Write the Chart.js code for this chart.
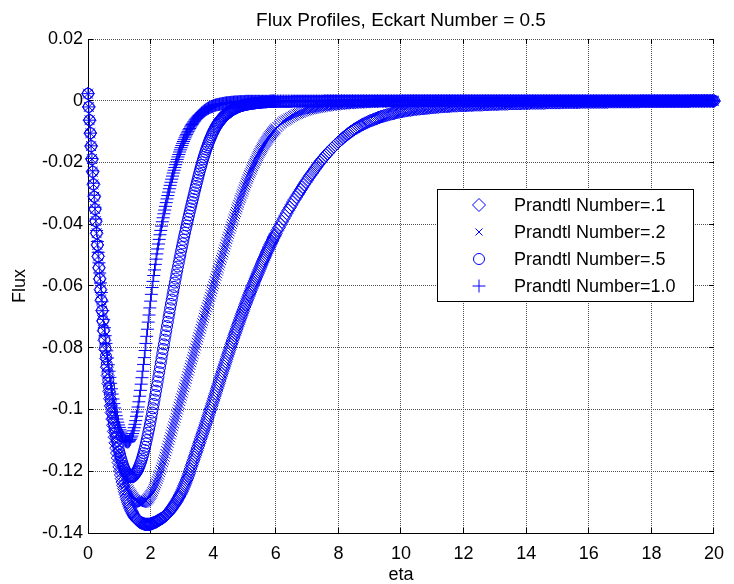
<!DOCTYPE html>
<html>
<head>
<meta charset="utf-8">
<title>Flux Profiles</title>
<script src="https://cdn.jsdelivr.net/npm/chart.js@4.4.1/dist/chart.umd.min.js"></script>
<style>
  html, body { margin: 0; padding: 0; background: #fff; }
  #caja { width: 734px; height: 584px; }
</style>
</head>
<body>
<div id="caja"><canvas id="grafico"></canvas></div>
<script>
// eta (eje x), compartido por las cuatro curvas
const eta = [
  0, 0.025, 0.05, 0.075, 0.1, 0.125, 0.15, 0.175, 0.2, 0.225,
  0.25, 0.275, 0.3, 0.325, 0.35, 0.375, 0.4, 0.425, 0.45, 0.475,
  0.5, 0.525, 0.55, 0.575, 0.6, 0.625, 0.65, 0.675, 0.7, 0.725,
  0.75, 0.775, 0.8, 0.825, 0.85, 0.875, 0.9, 0.925, 0.95, 0.975,
  1, 1.025, 1.05, 1.075, 1.1, 1.125, 1.15, 1.175, 1.2, 1.225,
  1.25, 1.275, 1.3, 1.325, 1.35, 1.375, 1.4, 1.425, 1.45, 1.475,
  1.5,
  1.525, 1.55, 1.575, 1.6, 1.625, 1.65, 1.675, 1.7, 1.725, 1.75,
  1.775, 1.8, 1.825, 1.85, 1.875, 1.9, 1.925, 1.95, 1.975, 2,
  2.025, 2.05, 2.075, 2.1, 2.125, 2.15, 2.175, 2.2, 2.225, 2.25,
  2.275, 2.3, 2.325, 2.35, 2.375, 2.4, 2.425, 2.45, 2.475, 2.5,
  2.525, 2.55, 2.575, 2.6, 2.625, 2.65, 2.675, 2.7, 2.725, 2.75,
  2.775, 2.8, 2.825, 2.85, 2.875, 2.9, 2.925, 2.95, 2.975, 3,
  3.025, 3.05, 3.075, 3.1, 3.125, 3.15, 3.175, 3.2, 3.225, 3.25,
  3.275, 3.3, 3.325, 3.35, 3.375, 3.4, 3.425, 3.45, 3.475, 3.5,
  3.525, 3.55, 3.575, 3.6, 3.625, 3.65, 3.675, 3.7, 3.725, 3.75,
  3.775, 3.8, 3.825, 3.85, 3.875, 3.9, 3.925, 3.95, 3.975, 4,
  4.025, 4.05, 4.075, 4.1, 4.125, 4.15, 4.175, 4.2, 4.225, 4.25,
  4.275, 4.3, 4.325, 4.35, 4.375, 4.4, 4.425, 4.45, 4.475, 4.5,
  4.525, 4.55, 4.575, 4.6, 4.625, 4.65, 4.675, 4.7, 4.725, 4.75,
  4.775, 4.8, 4.825, 4.85, 4.875, 4.9, 4.925, 4.95, 4.975, 5,
  5.025, 5.05, 5.075, 5.1, 5.125, 5.15, 5.175, 5.2, 5.225, 5.25,
  5.275, 5.3, 5.325, 5.35, 5.375, 5.4, 5.425, 5.45, 5.475, 5.5,
  5.525, 5.55, 5.575, 5.6, 5.625, 5.65, 5.675, 5.7, 5.725, 5.75,
  5.775, 5.8, 5.825, 5.85, 5.875, 5.9, 5.925, 5.95, 5.975, 6,
  6.05, 6.1, 6.15, 6.2, 6.25, 6.3, 6.35, 6.4, 6.45, 6.5,
  6.55, 6.6, 6.65, 6.7, 6.75, 6.8, 6.85, 6.9, 6.95, 7,
  7.05, 7.1, 7.15, 7.2, 7.25, 7.3, 7.35, 7.4, 7.45, 7.5,
  7.55, 7.6, 7.65, 7.7, 7.75, 7.8, 7.85, 7.9, 7.95, 8,
  8.05, 8.1, 8.15, 8.2, 8.25, 8.3, 8.35, 8.4, 8.45, 8.5,
  8.55, 8.6, 8.65, 8.7, 8.75, 8.8, 8.85, 8.9, 8.95, 9,
  9.05, 9.1, 9.15, 9.2, 9.25, 9.3, 9.35, 9.4, 9.45, 9.5,
  9.55, 9.6, 9.65, 9.7, 9.75, 9.8, 9.85, 9.9, 9.95, 10,
  10.05, 10.1, 10.15, 10.2, 10.25, 10.3, 10.35, 10.4, 10.45, 10.5,
  10.55, 10.6, 10.65, 10.7, 10.75, 10.8, 10.85, 10.9, 10.95, 11,
  11.05, 11.1, 11.15, 11.2, 11.25, 11.3, 11.35, 11.4, 11.45, 11.5,
  11.55, 11.6, 11.65, 11.7, 11.75, 11.8, 11.85, 11.9, 11.95, 12,
  12.05, 12.1, 12.15, 12.2, 12.25, 12.3, 12.35, 12.4, 12.45, 12.5,
  12.55, 12.6, 12.65, 12.7, 12.75, 12.8, 12.85, 12.9, 12.95, 13,
  13.05, 13.1, 13.15, 13.2, 13.25, 13.3, 13.35, 13.4, 13.45, 13.5,
  13.55, 13.6, 13.65, 13.7, 13.75, 13.8, 13.85, 13.9, 13.95, 14,
  14.05, 14.1, 14.15, 14.2, 14.25, 14.3, 14.35, 14.4, 14.45, 14.5,
  14.55, 14.6, 14.65, 14.7, 14.75, 14.8, 14.85, 14.9, 14.95, 15,
  15.05, 15.1, 15.15, 15.2, 15.25, 15.3, 15.35, 15.4, 15.45, 15.5,
  15.55, 15.6, 15.65, 15.7, 15.75, 15.8, 15.85, 15.9, 15.95, 16,
  16.05, 16.1, 16.15, 16.2, 16.25, 16.3, 16.35, 16.4, 16.45, 16.5,
  16.55, 16.6, 16.65, 16.7, 16.75, 16.8, 16.85, 16.9, 16.95, 17,
  17.05, 17.1, 17.15, 17.2, 17.25, 17.3, 17.35, 17.4, 17.45, 17.5,
  17.55, 17.6, 17.65, 17.7, 17.75, 17.8, 17.85, 17.9, 17.95, 18,
  18.05, 18.1, 18.15, 18.2, 18.25, 18.3, 18.35, 18.4, 18.45, 18.5,
  18.55, 18.6, 18.65, 18.7, 18.75, 18.8, 18.85, 18.9, 18.95, 19,
  19.05, 19.1, 19.15, 19.2, 19.25, 19.3, 19.35, 19.4, 19.45, 19.5,
  19.55, 19.6, 19.65, 19.7, 19.75, 19.8, 19.85, 19.9, 19.95, 20
];

// Prandtl Number = .1 (rombos)
const fluxPr01 = [
  0.0023, -0.0020, -0.0063, -0.0105, -0.0147, -0.0189, -0.0230, -0.0271, -0.0311, -0.0351,
  -0.0390, -0.0429, -0.0467, -0.0504, -0.0541, -0.0577, -0.0612, -0.0646, -0.0680, -0.0713,
  -0.0745, -0.0776, -0.0806, -0.0835, -0.0863, -0.0890, -0.0916, -0.0941, -0.0965, -0.0988,
  -0.1010, -0.1031, -0.1051, -0.1071, -0.1090, -0.1108, -0.1125, -0.1141, -0.1157, -0.1172,
  -0.1186, -0.1199, -0.1212, -0.1224, -0.1235, -0.1246, -0.1256, -0.1266, -0.1275, -0.1284,
  -0.1292, -0.1300, -0.1307, -0.1314, -0.1320, -0.1326, -0.1331, -0.1336, -0.1341, -0.1345,
  -0.1349,
  -0.1352, -0.1355, -0.1358, -0.1360, -0.1362, -0.1364, -0.1366, -0.1367, -0.1368, -0.1369,
  -0.1370, -0.1371, -0.1372, -0.1372, -0.1372, -0.1372, -0.1372, -0.1372, -0.1372, -0.1371,
  -0.1370, -0.1369, -0.1368, -0.1367, -0.1366, -0.1365, -0.1364, -0.1362, -0.1361, -0.1359,
  -0.1358, -0.1356, -0.1355, -0.1353, -0.1352, -0.1350, -0.1348, -0.1346, -0.1344, -0.1341,
  -0.1339, -0.1336, -0.1333, -0.1330, -0.1327, -0.1323, -0.1320, -0.1316, -0.1313, -0.1309,
  -0.1306, -0.1302, -0.1298, -0.1293, -0.1289, -0.1284, -0.1280, -0.1275, -0.1270, -0.1265,
  -0.1259, -0.1253, -0.1247, -0.1241, -0.1235, -0.1228, -0.1222, -0.1215, -0.1208, -0.1200,
  -0.1193, -0.1185, -0.1178, -0.1170, -0.1163, -0.1155, -0.1148, -0.1140, -0.1133, -0.1125,
  -0.1118, -0.1110, -0.1103, -0.1095, -0.1088, -0.1080, -0.1073, -0.1065, -0.1058, -0.1050,
  -0.1043, -0.1035, -0.1027, -0.1019, -0.1011, -0.1003, -0.0996, -0.0988, -0.0980, -0.0972,
  -0.0964, -0.0956, -0.0948, -0.0940, -0.0932, -0.0924, -0.0916, -0.0908, -0.0900, -0.0892,
  -0.0884, -0.0876, -0.0868, -0.0861, -0.0853, -0.0845, -0.0837, -0.0829, -0.0821, -0.0814,
  -0.0806, -0.0798, -0.0790, -0.0783, -0.0775, -0.0768, -0.0760, -0.0753, -0.0746, -0.0739,
  -0.0731, -0.0724, -0.0717, -0.0710, -0.0703, -0.0696, -0.0689, -0.0682, -0.0675, -0.0668,
  -0.0661, -0.0655, -0.0648, -0.0641, -0.0634, -0.0628, -0.0621, -0.0615, -0.0608, -0.0602,
  -0.0596, -0.0590, -0.0583, -0.0577, -0.0571, -0.0565, -0.0559, -0.0553, -0.0547, -0.0541,
  -0.0535, -0.0529, -0.0523, -0.0517, -0.0511, -0.0506, -0.0500, -0.0494, -0.0488, -0.0483,
  -0.0477, -0.0472, -0.0466, -0.0461, -0.0456, -0.0451, -0.0445, -0.0440, -0.0435, -0.0430,
  -0.0420, -0.0411, -0.0401, -0.0392, -0.0382, -0.0373, -0.0364, -0.0355, -0.0346, -0.0337,
  -0.0328, -0.0320, -0.0312, -0.0304, -0.0296, -0.0288, -0.0280, -0.0272, -0.0264, -0.0257,
  -0.0249, -0.0242, -0.0235, -0.0228, -0.0221, -0.0214, -0.0207, -0.0200, -0.0194, -0.0188,
  -0.0182, -0.0176, -0.0170, -0.0165, -0.0159, -0.0154, -0.0149, -0.0144, -0.0139, -0.0134,
  -0.0129, -0.0125, -0.0120, -0.0116, -0.0112, -0.0108, -0.0104, -0.0100, -0.0097, -0.0093,
  -0.0090, -0.0087, -0.0084, -0.0081, -0.0078, -0.0076, -0.0073, -0.0071, -0.0068, -0.0066,
  -0.0064, -0.0062, -0.0060, -0.0058, -0.0056, -0.0054, -0.0052, -0.0051, -0.0049, -0.0048,
  -0.0046, -0.0045, -0.0043, -0.0042, -0.0041, -0.0040, -0.0038, -0.0037, -0.0036, -0.0035,
  -0.0034, -0.0033, -0.0032, -0.0031, -0.0030, -0.0030, -0.0029, -0.0028, -0.0027, -0.0027,
  -0.0026, -0.0026, -0.0025, -0.0025, -0.0024, -0.0024, -0.0023, -0.0023, -0.0022, -0.0022,
  -0.0021, -0.0021, -0.0020, -0.0020, -0.0019, -0.0019, -0.0018, -0.0018, -0.0018, -0.0018,
  -0.0017, -0.0017, -0.0016, -0.0016, -0.0016, -0.0016, -0.0015, -0.0015, -0.0015, -0.0015,
  -0.0015, -0.0015, -0.0014, -0.0014, -0.0014, -0.0014, -0.0013, -0.0013, -0.0013, -0.0013,
  -0.0013, -0.0013, -0.0012, -0.0012, -0.0012, -0.0012, -0.0011, -0.0011, -0.0011, -0.0011,
  -0.0011, -0.0011, -0.0010, -0.0010, -0.0010, -0.0010, -0.0010, -0.0010, -0.0009, -0.0009,
  -0.0009, -0.0009, -0.0009, -0.0009, -0.0009, -0.0009, -0.0008, -0.0008, -0.0008, -0.0008,
  -0.0008, -0.0008, -0.0007, -0.0007, -0.0007, -0.0007, -0.0007, -0.0007, -0.0007, -0.0007,
  -0.0007, -0.0007, -0.0006, -0.0006, -0.0006, -0.0006, -0.0006, -0.0006, -0.0006, -0.0006,
  -0.0006, -0.0006, -0.0005, -0.0005, -0.0005, -0.0005, -0.0005, -0.0005, -0.0005, -0.0005,
  -0.0005, -0.0005, -0.0005, -0.0005, -0.0004, -0.0004, -0.0004, -0.0004, -0.0004, -0.0004,
  -0.0004, -0.0004, -0.0004, -0.0004, -0.0004, -0.0004, -0.0004, -0.0004, -0.0004, -0.0004,
  -0.0004, -0.0004, -0.0003, -0.0003, -0.0003, -0.0003, -0.0003, -0.0003, -0.0003, -0.0003,
  -0.0003, -0.0003, -0.0003, -0.0003, -0.0003, -0.0003, -0.0003, -0.0003, -0.0003, -0.0003,
  -0.0003, -0.0003, -0.0002, -0.0002, -0.0002, -0.0002, -0.0002, -0.0002, -0.0002, -0.0002,
  -0.0002, -0.0002, -0.0002, -0.0002, -0.0002, -0.0002, -0.0002, -0.0002, -0.0002, -0.0002,
  -0.0002, -0.0002, -0.0002, -0.0002, -0.0002, -0.0002, -0.0002, -0.0002, -0.0002, -0.0002,
  -0.0002, -0.0002, -0.0002, -0.0002, -0.0001, -0.0001, -0.0001, -0.0001, -0.0001, -0.0001,
  -0.0001, -0.0001, -0.0001, -0.0001, -0.0001, -0.0001, -0.0001, -0.0001, -0.0001, -0.0001
];

// Prandtl Number = .2 (aspas)
const fluxPr02 = [
  0.0023, -0.0020, -0.0063, -0.0105, -0.0147, -0.0189, -0.0230, -0.0271, -0.0311, -0.0351,
  -0.0390, -0.0429, -0.0467, -0.0504, -0.0541, -0.0577, -0.0612, -0.0646, -0.0680, -0.0713,
  -0.0745, -0.0776, -0.0806, -0.0833, -0.0860, -0.0886, -0.0911, -0.0935, -0.0958, -0.0980,
  -0.1001, -0.1021, -0.1040, -0.1058, -0.1075, -0.1091, -0.1106, -0.1120, -0.1134, -0.1147,
  -0.1159, -0.1171, -0.1182, -0.1192, -0.1202, -0.1211, -0.1220, -0.1228, -0.1236, -0.1243,
  -0.1250, -0.1256, -0.1262, -0.1267, -0.1272, -0.1276, -0.1280, -0.1284, -0.1287, -0.1290,
  -0.1293,
  -0.1295, -0.1297, -0.1299, -0.1300, -0.1301, -0.1301, -0.1302, -0.1302, -0.1302, -0.1301,
  -0.1300, -0.1299, -0.1298, -0.1296, -0.1294, -0.1291, -0.1288, -0.1285, -0.1281, -0.1277,
  -0.1273, -0.1268, -0.1263, -0.1257, -0.1251, -0.1245, -0.1239, -0.1232, -0.1225, -0.1218,
  -0.1211, -0.1203, -0.1195, -0.1187, -0.1179, -0.1170, -0.1162, -0.1153, -0.1144, -0.1135,
  -0.1126, -0.1117, -0.1108, -0.1099, -0.1090, -0.1081, -0.1072, -0.1063, -0.1054, -0.1045,
  -0.1036, -0.1027, -0.1018, -0.1009, -0.1000, -0.0991, -0.0982, -0.0973, -0.0964, -0.0955,
  -0.0946, -0.0937, -0.0928, -0.0919, -0.0910, -0.0901, -0.0892, -0.0883, -0.0874, -0.0865,
  -0.0856, -0.0847, -0.0838, -0.0829, -0.0820, -0.0811, -0.0802, -0.0793, -0.0784, -0.0775,
  -0.0766, -0.0757, -0.0748, -0.0739, -0.0730, -0.0721, -0.0712, -0.0703, -0.0695, -0.0686,
  -0.0678, -0.0669, -0.0661, -0.0652, -0.0644, -0.0635, -0.0627, -0.0618, -0.0610, -0.0601,
  -0.0593, -0.0584, -0.0576, -0.0567, -0.0559, -0.0550, -0.0542, -0.0533, -0.0525, -0.0516,
  -0.0508, -0.0499, -0.0491, -0.0482, -0.0474, -0.0465, -0.0457, -0.0448, -0.0440, -0.0431,
  -0.0423, -0.0415, -0.0407, -0.0399, -0.0391, -0.0383, -0.0375, -0.0367, -0.0360, -0.0352,
  -0.0345, -0.0337, -0.0330, -0.0322, -0.0315, -0.0308, -0.0301, -0.0294, -0.0287, -0.0280,
  -0.0274, -0.0267, -0.0261, -0.0254, -0.0248, -0.0241, -0.0235, -0.0229, -0.0223, -0.0217,
  -0.0212, -0.0206, -0.0201, -0.0195, -0.0190, -0.0184, -0.0179, -0.0174, -0.0169, -0.0164,
  -0.0160, -0.0155, -0.0151, -0.0146, -0.0142, -0.0138, -0.0134, -0.0130, -0.0126, -0.0122,
  -0.0119, -0.0115, -0.0112, -0.0108, -0.0105, -0.0102, -0.0099, -0.0096, -0.0093, -0.0090,
  -0.0085, -0.0080, -0.0075, -0.0071, -0.0067, -0.0064, -0.0061, -0.0058, -0.0055, -0.0052,
  -0.0049, -0.0047, -0.0044, -0.0042, -0.0040, -0.0038, -0.0036, -0.0034, -0.0032, -0.0031,
  -0.0029, -0.0028, -0.0027, -0.0026, -0.0025, -0.0024, -0.0023, -0.0022, -0.0021, -0.0020,
  -0.0019, -0.0019, -0.0018, -0.0017, -0.0016, -0.0016, -0.0015, -0.0015, -0.0014, -0.0014,
  -0.0013, -0.0013, -0.0012, -0.0012, -0.0011, -0.0011, -0.0011, -0.0011, -0.0010, -0.0010,
  -0.0009, -0.0009, -0.0009, -0.0009, -0.0008, -0.0008, -0.0008, -0.0008, -0.0007, -0.0007,
  -0.0007, -0.0007, -0.0007, -0.0006, -0.0006, -0.0006, -0.0006, -0.0006, -0.0005, -0.0005,
  -0.0005, -0.0005, -0.0005, -0.0005, -0.0004, -0.0004, -0.0004, -0.0004, -0.0004, -0.0004,
  -0.0004, -0.0004, -0.0003, -0.0003, -0.0003, -0.0003, -0.0003, -0.0003, -0.0003, -0.0003,
  -0.0003, -0.0003, -0.0003, -0.0003, -0.0003, -0.0003, -0.0003, -0.0003, -0.0003, -0.0003,
  -0.0003, -0.0003, -0.0003, -0.0003, -0.0003, -0.0002, -0.0002, -0.0002, -0.0002, -0.0002,
  -0.0002, -0.0002, -0.0002, -0.0002, -0.0002, -0.0002, -0.0002, -0.0002, -0.0002, -0.0002,
  -0.0002, -0.0002, -0.0002, -0.0002, -0.0002, -0.0002, -0.0002, -0.0002, -0.0002, -0.0002,
  -0.0002, -0.0002, -0.0002, -0.0002, -0.0002, -0.0002, -0.0002, -0.0002, -0.0002, -0.0002,
  -0.0002, -0.0002, -0.0002, -0.0002, -0.0002, -0.0002, -0.0002, -0.0002, -0.0002, -0.0002,
  -0.0002, -0.0002, -0.0002, -0.0002, -0.0002, -0.0002, -0.0002, -0.0002, -0.0002, -0.0002,
  -0.0001, -0.0001, -0.0001, -0.0001, -0.0001, -0.0001, -0.0001, -0.0001, -0.0001, -0.0001,
  -0.0001, -0.0001, -0.0001, -0.0001, -0.0001, -0.0001, -0.0001, -0.0001, -0.0001, -0.0001,
  -0.0001, -0.0001, -0.0001, -0.0001, -0.0001, -0.0001, -0.0001, -0.0001, -0.0001, -0.0001,
  -0.0001, -0.0001, -0.0001, -0.0001, -0.0001, -0.0001, -0.0001, -0.0001, -0.0001, -0.0001,
  -0.0001, -0.0001, -0.0001, -0.0001, -0.0001, -0.0001, -0.0001, -0.0001, -0.0001, -0.0001,
  -0.0001, -0.0001, -0.0001, -0.0001, -0.0001, -0.0001, -0.0001, -0.0001, -0.0001, -0.0001,
  -0.0001, -0.0001, -0.0001, -0.0001, -0.0001, -0.0001, -0.0001, -0.0001, -0.0001, -0.0001,
  -0.0001, -0.0001, -0.0001, -0.0001, -0.0001, -0.0001, -0.0001, -0.0001, -0.0001, -0.0001,
  0, 0, 0, 0, 0, 0, 0, 0, 0, 0,
  0, 0, 0, 0, 0, 0, 0, 0, 0, 0,
  0, 0, 0, 0, 0, 0, 0, 0, 0, 0,
  0, 0, 0, 0, 0, 0, 0, 0, 0, 0
];

// Prandtl Number = .5 (círculos)
const fluxPr05 = [
  0.0023, -0.0020, -0.0063, -0.0105, -0.0147, -0.0189, -0.0230, -0.0271, -0.0311, -0.0351,
  -0.0390, -0.0429, -0.0467, -0.0504, -0.0541, -0.0577, -0.0612, -0.0646, -0.0680, -0.0713,
  -0.0742, -0.0772, -0.0800, -0.0828, -0.0855, -0.0880, -0.0904, -0.0927, -0.0949, -0.0970,
  -0.0990, -0.1009, -0.1027, -0.1044, -0.1060, -0.1075, -0.1089, -0.1102, -0.1114, -0.1126,
  -0.1137, -0.1147, -0.1157, -0.1166, -0.1174, -0.1182, -0.1189, -0.1195, -0.1200, -0.1205,
  -0.1209, -0.1212, -0.1215, -0.1217, -0.1218, -0.1219, -0.1219, -0.1218, -0.1216, -0.1213,
  -0.1209,
  -0.1206, -0.1202, -0.1198, -0.1193, -0.1187, -0.1181, -0.1174, -0.1167, -0.1159, -0.1150,
  -0.1141, -0.1131, -0.1121, -0.1110, -0.1099, -0.1087, -0.1075, -0.1063, -0.1050, -0.1037,
  -0.1024, -0.1010, -0.0996, -0.0982, -0.0968, -0.0953, -0.0939, -0.0924, -0.0909, -0.0894,
  -0.0879, -0.0864, -0.0849, -0.0834, -0.0819, -0.0804, -0.0789, -0.0774, -0.0760, -0.0745,
  -0.0730, -0.0716, -0.0701, -0.0687, -0.0672, -0.0658, -0.0644, -0.0630, -0.0616, -0.0603,
  -0.0589, -0.0576, -0.0563, -0.0550, -0.0537, -0.0524, -0.0511, -0.0499, -0.0486, -0.0474,
  -0.0462, -0.0450, -0.0438, -0.0427, -0.0415, -0.0404, -0.0393, -0.0382, -0.0371, -0.0360,
  -0.0349, -0.0339, -0.0328, -0.0318, -0.0307, -0.0297, -0.0286, -0.0276, -0.0266, -0.0256,
  -0.0246, -0.0236, -0.0226, -0.0217, -0.0208, -0.0199, -0.0190, -0.0182, -0.0174, -0.0166,
  -0.0158, -0.0151, -0.0144, -0.0137, -0.0130, -0.0124, -0.0118, -0.0112, -0.0106, -0.0101,
  -0.0096, -0.0091, -0.0086, -0.0082, -0.0078, -0.0074, -0.0070, -0.0067, -0.0064, -0.0061,
  -0.0058, -0.0055, -0.0052, -0.0050, -0.0047, -0.0045, -0.0043, -0.0041, -0.0039, -0.0037,
  -0.0035, -0.0033, -0.0031, -0.0030, -0.0028, -0.0027, -0.0026, -0.0025, -0.0023, -0.0022,
  -0.0021, -0.0020, -0.0019, -0.0018, -0.0017, -0.0017, -0.0016, -0.0015, -0.0014, -0.0014,
  -0.0013, -0.0013, -0.0012, -0.0012, -0.0011, -0.0011, -0.0010, -0.0010, -0.0009, -0.0009,
  -0.0009, -0.0009, -0.0008, -0.0008, -0.0007, -0.0007, -0.0007, -0.0007, -0.0006, -0.0006,
  -0.0006, -0.0006, -0.0005, -0.0005, -0.0005, -0.0005, -0.0005, -0.0005, -0.0004, -0.0004,
  -0.0004, -0.0004, -0.0004, -0.0004, -0.0003, -0.0003, -0.0003, -0.0003, -0.0003, -0.0003,
  -0.0003, -0.0003, -0.0003, -0.0003, -0.0003, -0.0003, -0.0003, -0.0003, -0.0003, -0.0003,
  -0.0002, -0.0002, -0.0002, -0.0002, -0.0002, -0.0002, -0.0002, -0.0002, -0.0002, -0.0002,
  -0.0002, -0.0002, -0.0002, -0.0002, -0.0002, -0.0002, -0.0002, -0.0002, -0.0002, -0.0002,
  -0.0001, -0.0001, -0.0001, -0.0001, -0.0001, -0.0001, -0.0001, -0.0001, -0.0001, -0.0001,
  -0.0001, -0.0001, -0.0001, -0.0001, -0.0001, -0.0001, -0.0001, -0.0001, -0.0001, -0.0001,
  -0.0001, -0.0001, -0.0001, -0.0001, -0.0001, -0.0001, -0.0001, -0.0001, -0.0001, -0.0001,
  -0.0001, -0.0001, -0.0001, -0.0001, -0.0001, -0.0001, -0.0001, -0.0001, -0.0001, -0.0001,
  -0.0001, -0.0001, -0.0001, -0.0001, -0.0001, -0.0001, -0.0001, -0.0001, -0.0001, -0.0001,
  0, 0, 0, 0, 0, 0, 0, 0, 0, 0,
  0, 0, 0, 0, 0, 0, 0, 0, 0, 0,
  0, 0, 0, 0, 0, 0, 0, 0, 0, 0,
  0, 0, 0, 0, 0, 0, 0, 0, 0, 0,
  0, 0, 0, 0, 0, 0, 0, 0, 0, 0,
  0, 0, 0, 0, 0, 0, 0, 0, 0, 0,
  0, 0, 0, 0, 0, 0, 0, 0, 0, 0,
  0, 0, 0, 0, 0, 0, 0, 0, 0, 0,
  0, 0, 0, 0, 0, 0, 0, 0, 0, 0,
  0, 0, 0, 0, 0, 0, 0, 0, 0, 0,
  0, 0, 0, 0, 0, 0, 0, 0, 0, 0,
  0, 0, 0, 0, 0, 0, 0, 0, 0, 0,
  0, 0, 0, 0, 0, 0, 0, 0, 0, 0,
  0, 0, 0, 0, 0, 0, 0, 0, 0, 0,
  0, 0, 0, 0, 0, 0, 0, 0, 0, 0,
  0, 0, 0, 0, 0, 0, 0, 0, 0, 0,
  0, 0, 0, 0, 0, 0, 0, 0, 0, 0,
  0, 0, 0, 0, 0, 0, 0, 0, 0, 0,
  0, 0, 0, 0, 0, 0, 0, 0, 0, 0,
  0, 0, 0, 0, 0, 0, 0, 0, 0, 0
];

// Prandtl Number = 1.0 (cruces)
const fluxPr10 = [
  0.0023, -0.0020, -0.0063, -0.0105, -0.0146, -0.0187, -0.0227, -0.0267, -0.0306, -0.0345,
  -0.0383, -0.0420, -0.0456, -0.0491, -0.0525, -0.0558, -0.0590, -0.0621, -0.0651, -0.0680,
  -0.0708, -0.0735, -0.0761, -0.0786, -0.0810, -0.0833, -0.0855, -0.0876, -0.0896, -0.0915,
  -0.0933, -0.0950, -0.0966, -0.0981, -0.0995, -0.1008, -0.1020, -0.1031, -0.1041, -0.1050,
  -0.1058, -0.1066, -0.1073, -0.1079, -0.1085, -0.1090, -0.1095, -0.1099, -0.1102, -0.1104,
  -0.1105, -0.1105, -0.1104, -0.1101, -0.1097, -0.1092, -0.1086, -0.1078, -0.1069, -0.1059,
  -0.1048,
  -0.1036, -0.1022, -0.1008, -0.0992, -0.0975, -0.0957, -0.0938, -0.0918, -0.0897, -0.0876,
  -0.0854, -0.0832, -0.0809, -0.0786, -0.0763, -0.0740, -0.0717, -0.0694, -0.0671, -0.0649,
  -0.0627, -0.0605, -0.0585, -0.0566, -0.0548, -0.0530, -0.0513, -0.0496, -0.0480, -0.0464,
  -0.0449, -0.0434, -0.0420, -0.0406, -0.0392, -0.0379, -0.0366, -0.0354, -0.0342, -0.0330,
  -0.0318, -0.0307, -0.0296, -0.0285, -0.0274, -0.0264, -0.0254, -0.0244, -0.0234, -0.0225,
  -0.0216, -0.0207, -0.0198, -0.0190, -0.0182, -0.0174, -0.0166, -0.0159, -0.0152, -0.0145,
  -0.0138, -0.0132, -0.0126, -0.0120, -0.0114, -0.0109, -0.0104, -0.0099, -0.0094, -0.0090,
  -0.0085, -0.0081, -0.0077, -0.0073, -0.0069, -0.0066, -0.0062, -0.0059, -0.0056, -0.0053,
  -0.0050, -0.0048, -0.0045, -0.0043, -0.0040, -0.0038, -0.0036, -0.0034, -0.0032, -0.0030,
  -0.0028, -0.0027, -0.0025, -0.0024, -0.0022, -0.0021, -0.0020, -0.0019, -0.0018, -0.0017,
  -0.0016, -0.0015, -0.0014, -0.0013, -0.0013, -0.0012, -0.0012, -0.0011, -0.0011, -0.0010,
  -0.0010, -0.0009, -0.0009, -0.0008, -0.0008, -0.0007, -0.0007, -0.0007, -0.0006, -0.0006,
  -0.0006, -0.0006, -0.0005, -0.0005, -0.0005, -0.0005, -0.0004, -0.0004, -0.0004, -0.0004,
  -0.0004, -0.0004, -0.0003, -0.0003, -0.0003, -0.0003, -0.0003, -0.0003, -0.0003, -0.0003,
  -0.0002, -0.0002, -0.0002, -0.0002, -0.0002, -0.0002, -0.0002, -0.0002, -0.0002, -0.0002,
  -0.0002, -0.0002, -0.0002, -0.0002, -0.0002, -0.0002, -0.0002, -0.0002, -0.0002, -0.0002,
  -0.0002, -0.0002, -0.0002, -0.0002, -0.0002, -0.0002, -0.0002, -0.0002, -0.0002, -0.0002,
  -0.0002, -0.0002, -0.0001, -0.0001, -0.0001, -0.0001, -0.0001, -0.0001, -0.0001, -0.0001,
  -0.0001, -0.0001, -0.0001, -0.0001, -0.0001, -0.0001, -0.0001, -0.0001, -0.0001, -0.0001,
  -0.0001, -0.0001, -0.0001, -0.0001, -0.0001, -0.0001, -0.0001, -0.0001, -0.0001, -0.0001,
  -0.0001, -0.0001, -0.0001, -0.0001, -0.0001, -0.0001, -0.0001, -0.0001, -0.0001, -0.0001,
  0, 0, 0, 0, 0, 0, 0, 0, 0, 0,
  0, 0, 0, 0, 0, 0, 0, 0, 0, 0,
  0, 0, 0, 0, 0, 0, 0, 0, 0, 0,
  0, 0, 0, 0, 0, 0, 0, 0, 0, 0,
  0, 0, 0, 0, 0, 0, 0, 0, 0, 0,
  0, 0, 0, 0, 0, 0, 0, 0, 0, 0,
  0, 0, 0, 0, 0, 0, 0, 0, 0, 0,
  0, 0, 0, 0, 0, 0, 0, 0, 0, 0,
  0, 0, 0, 0, 0, 0, 0, 0, 0, 0,
  0, 0, 0, 0, 0, 0, 0, 0, 0, 0,
  0, 0, 0, 0, 0, 0, 0, 0, 0, 0,
  0, 0, 0, 0, 0, 0, 0, 0, 0, 0,
  0, 0, 0, 0, 0, 0, 0, 0, 0, 0,
  0, 0, 0, 0, 0, 0, 0, 0, 0, 0,
  0, 0, 0, 0, 0, 0, 0, 0, 0, 0,
  0, 0, 0, 0, 0, 0, 0, 0, 0, 0,
  0, 0, 0, 0, 0, 0, 0, 0, 0, 0,
  0, 0, 0, 0, 0, 0, 0, 0, 0, 0,
  0, 0, 0, 0, 0, 0, 0, 0, 0, 0,
  0, 0, 0, 0, 0, 0, 0, 0, 0, 0,
  0, 0, 0, 0, 0, 0, 0, 0, 0, 0,
  0, 0, 0, 0, 0, 0, 0, 0, 0, 0,
  0, 0, 0, 0, 0, 0, 0, 0, 0, 0,
  0, 0, 0, 0, 0, 0, 0, 0, 0, 0,
  0, 0, 0, 0, 0, 0, 0, 0, 0, 0
];

const nombresSeries = ['Prandtl Number=.1', 'Prandtl Number=.2', 'Prandtl Number=.5', 'Prandtl Number=1.0'];
const xTickValues = [0, 2, 4, 6, 8, 10, 12, 14, 16, 18, 20];
const xTickLabels = ['0', '2', '4', '6', '8', '10', '12', '14', '16', '18', '20'];
const yTickValues = [-0.14, -0.12, -0.1, -0.08, -0.06, -0.04, -0.02, 0, 0.02];
const yTickLabels = ['-0.14', '-0.12', '-0.1', '-0.08', '-0.06', '-0.04', '-0.02', '0', '0.02'];

const titulo = 'Flux Profiles, Eckart Number = 0.5';
const tituloX = 'eta';
const tituloY = 'Flux';

const azul = 'rgb(0,0,255)';
const fuente = "'Liberation Sans', Arial, Helvetica, sans-serif";

function puntos(valores) {
    return eta.map((x, i) => ({ x: x, y: valores[i] }));
}

function serie(etiqueta, valores, estilo, radio, radioLeyenda) {
    return {
        label: etiqueta,
        data: puntos(valores),
        showLine: false,
        pointStyle: estilo,
        pointRadius: radio,
        pointHoverRadius: radio,
        pointBorderWidth: 1,
        pointBorderColor: azul,
        pointBackgroundColor: 'rgba(0,0,0,0)',
        borderColor: azul,
        backgroundColor: 'rgba(0,0,0,0)',
        radioLeyenda: radioLeyenda,
        clip: false
    };
}

// Marcas hacia dentro en los cuatro lados (estilo MATLAB)
function alinear(p) {
    return Math.round(p - 0.5) + 0.5;
}

const marcasInternas = {
    id: 'marcasInternas',
    beforeDatasetsDraw(chart) {
        const { ctx, chartArea: a, scales } = chart;
        ctx.save();
        ctx.strokeStyle = '#000';
        ctx.lineWidth = 1;
        ctx.beginPath();
        xTickValues.forEach(v => {
            const px = alinear(scales.x.getPixelForValue(v));
            ctx.moveTo(px, a.bottom); ctx.lineTo(px, a.bottom - 5);
            ctx.moveTo(px, a.top); ctx.lineTo(px, a.top + 5);
        });
        yTickValues.forEach(v => {
            const py = alinear(scales.y.getPixelForValue(v));
            ctx.moveTo(a.left, py); ctx.lineTo(a.left + 5, py);
            ctx.moveTo(a.right, py); ctx.lineTo(a.right - 5, py);
        });
        ctx.stroke();
        ctx.restore();
    }
};

function dibujarMarca(ctx, estilo, x, y, r) {
    ctx.beginPath();
    if (estilo === 'rectRot') {
        ctx.moveTo(x, y - r); ctx.lineTo(x + r, y); ctx.lineTo(x, y + r); ctx.lineTo(x - r, y);
        ctx.closePath();
    } else if (estilo === 'circle') {
        ctx.arc(x, y, r, 0, Math.PI * 2);
    } else if (estilo === 'cross') {
        ctx.moveTo(x - r, y); ctx.lineTo(x + r, y);
        ctx.moveTo(x, y - r); ctx.lineTo(x, y + r);
    } else if (estilo === 'crossRot') {
        const d = r * Math.SQRT1_2;
        ctx.moveTo(x - d, y - d); ctx.lineTo(x + d, y + d);
        ctx.moveTo(x - d, y + d); ctx.lineTo(x + d, y - d);
    }
    ctx.stroke();
}

// Título, etiquetas de ejes y leyenda
const textosYLeyenda = {
    id: 'textosYLeyenda',
    afterDraw(chart) {
        const { ctx, chartArea: a } = chart;
        const cx = (a.left + a.right) / 2;
        ctx.save();
        ctx.fillStyle = '#000';
        ctx.textAlign = 'center';
        ctx.textBaseline = 'middle';
        ctx.font = '19px ' + fuente;
        ctx.fillText(titulo, cx, 21);
        ctx.font = '18px ' + fuente;
        ctx.fillText(tituloX, cx, 575);
        ctx.save();
        ctx.translate(20, (a.top + a.bottom) / 2);
        ctx.rotate(-Math.PI / 2);
        ctx.fillText(tituloY, 0, 0);
        ctx.restore();

        // leyenda
        const lx = 437, ly = 189, lw = 256, lh = 112;
        ctx.fillStyle = '#fff';
        ctx.fillRect(lx, ly, lw, lh);
        ctx.strokeStyle = '#000';
        ctx.lineWidth = 1;
        ctx.strokeRect(lx + 0.5, ly + 0.5, lw, lh);
        const filas = [205, 232, 259, 286];
        chart.data.datasets.forEach((ds, i) => {
            ctx.strokeStyle = azul;
            ctx.lineWidth = 1;
            dibujarMarca(ctx, ds.pointStyle, 479, filas[i], ds.radioLeyenda);
            ctx.fillStyle = '#000';
            ctx.textAlign = 'left';
            ctx.font = '18px ' + fuente;
            ctx.fillText(nombresSeries[i], 514, filas[i] + 1);
        });
        ctx.restore();
    }
};

Chart.defaults.font.family = fuente;

const ctx = document.getElementById('grafico').getContext('2d');

const chart = new Chart(ctx, {
    type: 'scatter',
    data: {
        datasets: [
            serie(nombresSeries[0], fluxPr01, 'rectRot', 6.5, 6.5),
            serie(nombresSeries[1], fluxPr02, 'crossRot', 7, 5),
            serie(nombresSeries[2], fluxPr05, 'circle', 5.5, 5.5),
            serie(nombresSeries[3], fluxPr10, 'cross', 6.5, 6.5)
        ]
    },
    options: {
        responsive: true,
        maintainAspectRatio: false,
        devicePixelRatio: 1,
        animation: false,
        events: [],
        layout: { padding: { top: 39, right: 11, left: 0, bottom: 0 } },
        plugins: {
            legend: { display: false },
            title: { display: false },
            tooltip: { enabled: false }
        },
        scales: {
            x: {
                type: 'linear',
                min: 0,
                max: 20,
                afterBuildTicks: eje => { eje.ticks = xTickValues.map(v => ({ value: v })); },
                afterFit: eje => { eje.height = 51; },
                ticks: {
                    callback: (v, i) => xTickLabels[i],
                    color: '#000',
                    font: { size: 18 },
                    padding: 10,
                    maxRotation: 0,
                    autoSkip: false
                },
                grid: { color: '#505050', lineWidth: 1, drawTicks: false },
                border: { display: true, color: '#000', width: 1, dash: [1, 1] }
            },
            y: {
                type: 'linear',
                min: -0.14,
                max: 0.02,
                afterBuildTicks: eje => { eje.ticks = yTickValues.map(v => ({ value: v })); },
                afterFit: eje => { eje.width = 88; },
                ticks: {
                    callback: (v, i) => yTickLabels[i],
                    color: '#000',
                    font: { size: 18 },
                    padding: 5,
                    autoSkip: false
                },
                grid: { color: '#505050', lineWidth: 1, drawTicks: false },
                border: { display: true, color: '#000', width: 1, dash: [1, 1] }
            }
        }
    },
    plugins: [marcasInternas, textosYLeyenda]
});
</script>
</body>
</html>
